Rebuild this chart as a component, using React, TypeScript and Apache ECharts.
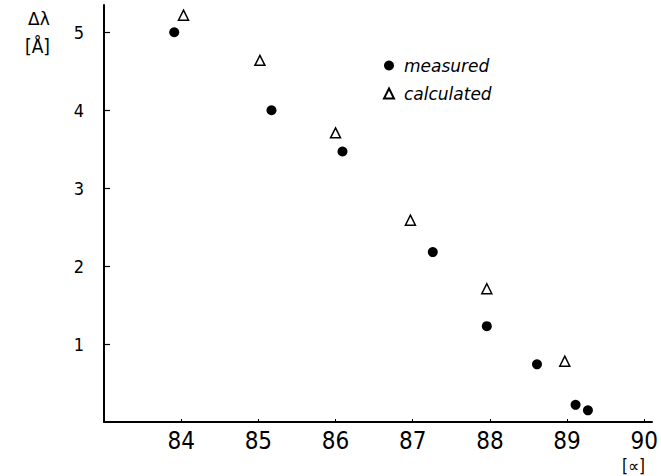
import React, { useEffect, useRef } from "react";
import * as echarts from "echarts";

const measuredX = [83.91, 85.17, 86.09, 87.26, 87.96, 88.61, 89.11, 89.27];
const measuredY = [5.0, 4.0, 3.47, 2.18, 1.23, 0.74, 0.22, 0.15];
const calculatedX = [84.03, 85.02, 86.0, 86.97, 87.96, 88.97];
const calculatedY = [5.22, 4.64, 3.71, 2.59, 1.71, 0.78];
const xTicks = [84, 85, 86, 87, 88, 89, 90];
const yTicks = [1, 2, 3, 4, 5];
const seriesNames = ["measured", "calculated"];

const FONT = "'DejaVu Sans Condensed', 'DejaVu Sans', sans-serif";

export default function App() {
  const ref = useRef<HTMLDivElement>(null);
  useEffect(() => {
    if (!ref.current) return;
    const chart = echarts.init(ref.current, null, { renderer: "svg" });
    chart.setOption({
      animation: false,
      backgroundColor: "#fff",
      grid: { left: 104, top: 5, right: 1, bottom: 54, containLabel: false },
      legend: {
        orient: "vertical",
        left: 378,
        top: 52,
        itemWidth: 10,
        itemHeight: 10,
        itemGap: 11,
        textStyle: {
          fontFamily: "'DejaVu Sans', sans-serif",
          fontStyle: "italic",
          fontSize: 17,
          color: "#000",
          padding: [0, 0, 0, 5],
        },
        data: [
          { name: seriesNames[0], icon: "circle" },
          { name: seriesNames[1], icon: "triangle" },
        ],
      },
      xAxis: {
        type: "value",
        min: 83,
        max: 90.1,
        interval: 1,
        splitLine: { show: false },
        axisLine: { show: true, onZero: false, lineStyle: { color: "#000", width: 2 } },
        axisTick: {
          show: true,
          inside: true,
          length: 3,
          customValues: xTicks,
          lineStyle: { color: "#000", width: 1 },
        },
        axisLabel: {
          customValues: xTicks,
          color: "#000",
          fontFamily: FONT,
          fontSize: 24,
          margin: 7,
        },
      },
      yAxis: {
        type: "value",
        min: 0,
        max: 5.35,
        interval: 1,
        splitLine: { show: false },
        axisLine: { show: true, onZero: false, lineStyle: { color: "#000", width: 2 } },
        axisTick: {
          show: true,
          inside: true,
          length: 6,
          customValues: yTicks,
          lineStyle: { color: "#000", width: 1.2 },
        },
        axisLabel: {
          customValues: yTicks,
          color: "#000",
          fontFamily: FONT,
          fontSize: 18,
          margin: 20,
        },
      },
      graphic: [
        {
          type: "text",
          left: 28,
          top: 10,
          style: { text: "Δλ", font: "17px 'DejaVu Sans', sans-serif", fill: "#000" },
        },
        {
          type: "text",
          left: 25,
          top: 36,
          style: { text: "[Å]", font: "19px " + FONT, fill: "#000" },
        },
        {
          type: "text",
          left: 622,
          top: 457,
          style: { text: "[∝]", font: "17px " + FONT, fill: "#000" },
        },
      ],
      series: [
        {
          name: seriesNames[0],
          type: "scatter",
          symbol: "circle",
          symbolSize: 10,
          itemStyle: { color: "#000", opacity: 1 },
          data: measuredX.map((x, i) => [x, measuredY[i]]),
        },
        {
          name: seriesNames[1],
          type: "scatter",
          symbol: "triangle",
          symbolSize: [10, 10],
          itemStyle: { color: "#fff", borderColor: "#000", borderWidth: 1.5, opacity: 1 },
          data: calculatedX.map((x, i) => [x, calculatedY[i]]),
        },
      ],
    });
    return () => chart.dispose();
  }, []);
  return (
    <div
      ref={ref}
      style={{ position: "absolute", left: 0, top: 0, width: 661, height: 476 }}
    />
  );
}
